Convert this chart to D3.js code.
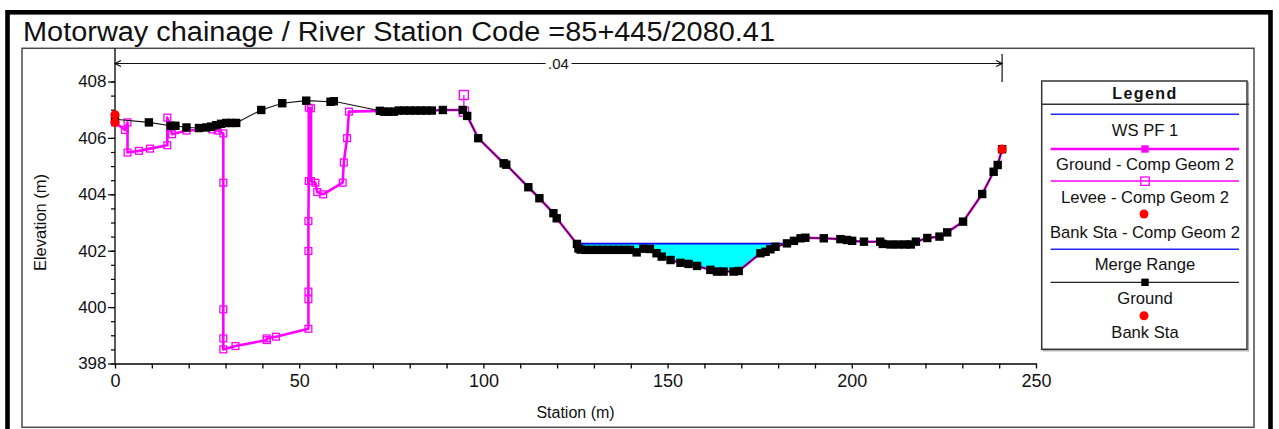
<!DOCTYPE html>
<html>
<head>
<meta charset="utf-8">
<script src="https://cdn.jsdelivr.net/npm/d3@7"></script>
<style>
  body { margin: 0; background: #fff; }
  svg { display: block; }
  text { font-family: "Liberation Sans", Arial, sans-serif; fill: #111; }
</style>
</head>
<body>
<svg id="chart" width="1279" height="429"></svg>
<script>
// ---- cross-section data -------------------------------------------------
const chartTitle = "Motorway chainage / River Station Code =85+445/2080.41";

// Surveyed ground profile: [station (m), elevation (m)]
const ground = [
  [0, 406.66], [9.2, 406.55], [15.1, 406.43], [16.4, 406.43], [19.4, 406.37],
  [22.8, 406.35], [24.8, 406.37], [26.1, 406.40], [27.5, 406.45], [28.8, 406.50],
  [30.2, 406.53], [31.5, 406.53], [32.9, 406.53], [39.7, 406.99], [45.4, 407.23],
  [51.9, 407.32], [58.5, 407.28], [59.4, 407.30], [71.9, 406.96], [73.0, 406.93],
  [74.3, 406.93], [75.7, 406.93], [77.0, 406.97], [78.5, 406.97], [80.0, 406.97],
  [81.5, 406.97], [83.0, 406.97], [84.5, 406.97], [86.0, 406.97], [89.0, 406.99],
  [94.4, 406.99], [95.6, 406.78], [98.6, 405.99], [105.5, 405.10], [106.2, 405.05],
  [112.2, 404.25], [115.2, 403.86], [119.0, 403.33], [119.9, 403.15], [125.4, 402.24],
  [125.8, 402.08], [126.4, 402.04], [127.8, 402.03], [129.3, 402.03], [130.8, 402.03],
  [132.3, 402.03], [133.8, 402.03], [135.3, 402.03], [136.8, 402.03], [138.3, 402.03],
  [139.8, 402.03], [141.6, 401.94], [143.4, 402.07], [145.2, 402.06], [147.0, 401.91],
  [148.4, 401.79], [150.8, 401.67], [153.5, 401.57], [155.7, 401.53], [158.0, 401.46],
  [161.6, 401.32], [163.4, 401.26], [165.2, 401.26], [167.9, 401.26], [169.3, 401.28],
  [175.2, 401.91], [176.6, 401.96], [177.9, 402.05], [179.3, 402.14], [182.4, 402.26],
  [184.3, 402.35], [186.1, 402.44], [187.4, 402.46], [192.4, 402.44], [196.9, 402.41],
  [198.7, 402.38], [200.1, 402.35], [203.3, 402.32], [207.7, 402.32], [208.4, 402.24],
  [210.5, 402.22], [212.5, 402.22], [214.5, 402.22], [216.0, 402.22], [217.4, 402.32],
  [220.5, 402.45], [223.8, 402.50], [225.9, 402.65], [230.2, 403.03], [235.4, 404.01],
  [238.5, 404.80], [239.6, 405.04], [240.8, 405.60]
];

// Comparison geometry 2 ground, left overbank (joins the surveyed ground at 71.9 m)
const compGeomLeft = [
  [0, 406.55], [2.7, 406.28], [3.4, 406.55], [3.4, 405.48], [6.5, 405.54],
  [9.5, 405.62], [14.2, 405.74], [14.2, 406.72], [15.5, 406.13], [19.4, 406.26],
  [26.4, 406.30], [27.9, 406.26], [29.4, 406.16], [29.4, 404.41], [29.4, 399.92],
  [29.4, 398.89], [29.4, 398.50], [32.7, 398.62], [41.2, 398.83], [41.2, 398.89],
  [43.7, 398.95], [52.5, 399.23], [52.5, 400.28], [52.5, 400.55], [52.5, 401.99],
  [52.5, 403.05], [52.6, 404.47], [52.6, 407.07], [53.2, 407.05], [53.2, 404.47],
  [54.4, 404.41], [54.9, 404.08], [56.5, 404.00], [61.8, 404.41], [62.1, 405.13],
  [63.0, 405.99], [63.5, 406.93]
];

// Levee, comparison geometry 2
const levee = [[94.7, 407.52], [94.7, 406.93]];

// Bank stations
const bankSta = [[0, 406.82], [240.8, 405.60]];
const compBankSta = [[0, 406.55]];

// Water surface, profile PF 1
const wsElev = 402.25;

// Manning's n across the section
const manningLabel = ".04";
const manningRange = [0, 240.8];

const xTickLabels = [0, 50, 100, 150, 200, 250];
const yTickLabels = [398, 400, 402, 404, 406, 408];

const legendLabels = [
  "WS PF 1", "Ground - Comp Geom 2", "Levee - Comp Geom 2",
  "Bank Sta - Comp Geom 2", "Merge Range", "Ground", "Bank Sta"
];

// ---- drawing -------------------------------------------------------------
const svg = d3.select("#chart");
svg.append("rect").attr("width", 1279).attr("height", 429).attr("fill", "#fff");

// outer frame and inner panel
svg.append("rect").attr("x", 7.5).attr("y", 12.3).attr("width", 1263).attr("height", 422)
  .attr("fill", "none").attr("stroke", "#000").attr("stroke-width", 4.6);
svg.append("rect").attr("x", 22).attr("y", 48.3).attr("width", 1232).attr("height", 379)
  .attr("fill", "none").attr("stroke", "#4a4a4a").attr("stroke-width", 1.5);

svg.append("text").attr("x", 23).attr("y", 40.5)
  .attr("font-size", 27).attr("textLength", 752).attr("lengthAdjust", "spacingAndGlyphs")
  .text(chartTitle);

const x = d3.scaleLinear().domain([0, 250]).range([115, 1036]);
const y = d3.scaleLinear().domain([398, 408]).range([363.5, 81.5]);

// x axis
const xAxis = d3.axisBottom(x)
  .tickValues(d3.range(0, 251, 10))
  .tickFormat(d => xTickLabels.includes(d) ? d : "")
  .tickSize(5).tickSizeOuter(0).tickPadding(5.5);
const gx = svg.append("g").attr("transform", `translate(0,${y(398)})`).call(xAxis);
gx.selectAll("text").attr("font-size", 18).attr("fill", "#111")
  .attr("font-family", "\"Liberation Sans\", Arial, sans-serif");
gx.selectAll("line,path").attr("stroke", "#000").attr("stroke-width", 1.3);

// y axis: minor ticks every 0.5 m, labelled major ticks every 2 m
const gyMinor = svg.append("g").attr("transform", `translate(${x(0)},0)`)
  .call(d3.axisLeft(y).tickValues(d3.range(398, 408.01, 0.5)).tickFormat("").tickSize(4).tickSizeOuter(0));
gyMinor.select(".domain").remove();
gyMinor.selectAll("line").attr("stroke", "#000").attr("stroke-width", 1.2);
const gy = svg.append("g").attr("transform", `translate(${x(0)},0)`)
  .call(d3.axisLeft(y).tickValues(yTickLabels).tickSize(7).tickSizeOuter(0).tickPadding(1.5));
gy.select(".domain").remove();
gy.selectAll("line").attr("stroke", "#000").attr("stroke-width", 1.2);
gy.selectAll("text").attr("font-size", 17).attr("fill", "#111")
  .attr("font-family", "\"Liberation Sans\", Arial, sans-serif");
svg.append("line").attr("x1", x(0)).attr("x2", x(0)).attr("y1", 48.3).attr("y2", y(398))
  .attr("stroke", "#000").attr("stroke-width", 1.3);

svg.append("text").attr("x", x(125)).attr("y", 417.5).attr("text-anchor", "middle")
  .attr("font-size", 16).text("Station (m)");
svg.append("text").attr("transform", `translate(45.5,${y(403)}) rotate(-90)`)
  .attr("text-anchor", "middle").attr("font-size", 16.5).text("Elevation (m)");

// Manning's n extent with arrows
const nY = 63.5;
const nMid = x((manningRange[0] + manningRange[1]) / 2);
const gn = svg.append("g").attr("stroke", "#111").attr("stroke-width", 1.2).attr("fill", "none");
gn.append("line").attr("x1", x(manningRange[0])).attr("x2", nMid - 13).attr("y1", nY).attr("y2", nY);
gn.append("line").attr("x1", nMid + 13).attr("x2", x(manningRange[1])).attr("y1", nY).attr("y2", nY);
gn.append("path").attr("d", `M${x(manningRange[0]) + 6},${nY - 3}L${x(manningRange[0])},${nY}L${x(manningRange[0]) + 6},${nY + 3}`);
gn.append("path").attr("d", `M${x(manningRange[1]) - 6},${nY - 3}L${x(manningRange[1])},${nY}L${x(manningRange[1]) - 6},${nY + 3}`);
gn.append("line").attr("x1", x(manningRange[1])).attr("x2", x(manningRange[1])).attr("y1", 54).attr("y2", 82);
svg.append("text").attr("x", nMid).attr("y", nY + 5.5).attr("text-anchor", "middle")
  .attr("font-size", 15).text(manningLabel);

// wet portions of the section below the water surface
function wetRegions(pts, ws) {
  const out = [];
  let cur = null;
  const cross = (a, b) => [a[0] + (ws - a[1]) / (b[1] - a[1]) * (b[0] - a[0]), ws];
  pts.forEach((p, i) => {
    if (p[1] < ws) {
      if (!cur) { cur = i > 0 ? [cross(pts[i - 1], p)] : []; }
      cur.push(p);
    } else if (cur) {
      cur.push(cross(pts[i - 1], p));
      out.push(cur);
      cur = null;
    }
  });
  if (cur) out.push(cur);
  return out;
}
const wet = wetRegions(ground, wsElev);
const waterArea = d3.area().x(d => x(d[0])).y0(d => y(d[1])).y1(y(wsElev));
svg.append("g").selectAll("path").data(wet).join("path")
  .attr("d", waterArea).attr("fill", "#00ffff").attr("stroke", "none");
svg.append("g").selectAll("line").data(wet).join("line")
  .attr("x1", d => x(d[0][0])).attr("x2", d => x(d[d.length - 1][0]))
  .attr("y1", y(wsElev)).attr("y2", y(wsElev))
  .attr("stroke", "#0000ff").attr("stroke-width", 1.6);

const line = d3.line().x(d => x(d[0])).y(d => y(d[1]));

// comparison geometry ground (magenta)
const compGeom = compGeomLeft.concat(ground.filter(d => d[0] >= 71.9));
svg.append("path").attr("d", line(compGeom)).attr("fill", "none")
  .attr("stroke", "#ff00ff").attr("stroke-width", 2.6).attr("stroke-linejoin", "round");
svg.append("path").attr("d", line(levee)).attr("fill", "none")
  .attr("stroke", "#ff00ff").attr("stroke-width", 1.3);
svg.append("g").selectAll("rect").data(compGeomLeft).join("rect")
  .attr("x", d => x(d[0]) - 3.4).attr("y", d => y(d[1]) - 3.4)
  .attr("width", 6.8).attr("height", 6.8)
  .attr("fill", "none").attr("stroke", "#ff00ff").attr("stroke-width", 1.3);
svg.append("g").selectAll("rect").data(levee).join("rect")
  .attr("x", d => x(d[0]) - 4.5).attr("y", d => y(d[1]) - 4.5)
  .attr("width", 9).attr("height", 9)
  .attr("fill", "none").attr("stroke", "#ff00ff").attr("stroke-width", 1.4);

// surveyed ground (black)
svg.append("path").attr("d", line(ground)).attr("fill", "none")
  .attr("stroke", "#111").attr("stroke-width", 1.1);
svg.append("g").selectAll("rect").data(ground).join("rect")
  .attr("x", d => x(d[0]) - 4.2).attr("y", d => y(d[1]) - 4.2)
  .attr("width", 8.4).attr("height", 8.4).attr("fill", "#000");

// bank stations
svg.append("g").selectAll("circle").data(compBankSta.concat(bankSta)).join("circle")
  .attr("cx", d => x(d[0])).attr("cy", d => y(d[1])).attr("r", 4.6).attr("fill", "#ff0000");

// ---- legend --------------------------------------------------------------
const lg = svg.append("g");
const lx0 = 1041.7, lx1 = 1247, lcx = 1145;
lg.append("rect").attr("x", lx0 + 1.5).attr("y", 82.5).attr("width", lx1 - lx0).attr("height", 268.3)
  .attr("fill", "none").attr("stroke", "#aaa").attr("stroke-width", 1.2);
lg.append("rect").attr("x", lx0).attr("y", 81).attr("width", lx1 - lx0).attr("height", 268.3)
  .attr("fill", "#fff").attr("stroke", "#333").attr("stroke-width", 1.5);
lg.append("line").attr("x1", lx0).attr("x2", 1249).attr("y1", 104.3).attr("y2", 104.3)
  .attr("stroke", "#333").attr("stroke-width", 1.5);
lg.append("text").attr("x", lcx).attr("y", 98.5).attr("text-anchor", "middle")
  .attr("font-size", 16).attr("font-weight", "bold").attr("letter-spacing", 1.4).text("Legend");

const legendTextY = [136.3, 170.3, 203, 238, 270.3, 304.3, 338.3];
lg.selectAll("text.item").data(legendLabels).join("text").attr("class", "item")
  .attr("x", lcx).attr("y", (d, i) => legendTextY[i]).attr("text-anchor", "middle")
  .attr("font-size", 16.6).text(d => d);

const sx0 = 1050.7, sx1 = 1239;
// WS PF 1
lg.append("line").attr("x1", sx0).attr("x2", sx1).attr("y1", 114.3).attr("y2", 114.3)
  .attr("stroke", "#2626ff").attr("stroke-width", 1.5);
// Ground - Comp Geom 2
lg.append("line").attr("x1", sx0).attr("x2", sx1).attr("y1", 149).attr("y2", 149)
  .attr("stroke", "#ff00ff").attr("stroke-width", 2.6);
lg.append("rect").attr("x", lcx - 3.7).attr("y", 149 - 3.7).attr("width", 7.4).attr("height", 7.4)
  .attr("fill", "#ff00ff");
// Levee - Comp Geom 2
lg.append("line").attr("x1", sx0).attr("x2", sx1).attr("y1", 181).attr("y2", 181)
  .attr("stroke", "#ff00ff").attr("stroke-width", 1.3);
lg.append("rect").attr("x", lcx - 4.2).attr("y", 177).attr("width", 8.4).attr("height", 8.4)
  .attr("fill", "none").attr("stroke", "#ff00ff").attr("stroke-width", 1.3);
// Bank Sta - Comp Geom 2
lg.append("circle").attr("cx", lcx - 1).attr("cy", 214).attr("r", 4.5).attr("fill", "#ff0000");
// Merge Range
lg.append("line").attr("x1", sx0).attr("x2", sx1).attr("y1", 249.3).attr("y2", 249.3)
  .attr("stroke", "#2626ff").attr("stroke-width", 1.5);
// Ground
lg.append("line").attr("x1", sx0).attr("x2", sx1).attr("y1", 282.3).attr("y2", 282.3)
  .attr("stroke", "#222").attr("stroke-width", 1.3);
lg.append("rect").attr("x", lcx - 3.7).attr("y", 282.3 - 3.7).attr("width", 7.4).attr("height", 7.4)
  .attr("fill", "#000");
// Bank Sta
lg.append("circle").attr("cx", lcx - 1).attr("cy", 315.7).attr("r", 4.5).attr("fill", "#ff0000");
</script>
</body>
</html>
